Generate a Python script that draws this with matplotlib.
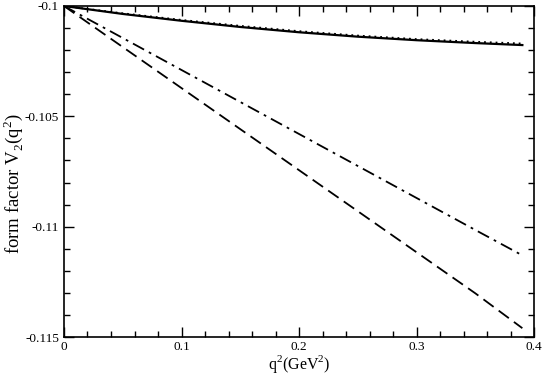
import matplotlib

matplotlib.use("Agg")
import matplotlib.pyplot as plt
from matplotlib.ticker import MultipleLocator

# q^2 grid (GeV^2) and the four form-factor curves
q2 = [0.0, 0.05, 0.1, 0.15, 0.2, 0.25, 0.3, 0.35, 0.39]
v2_solid = [-0.1, -0.10036, -0.10067, -0.10095, -0.10119, -0.10139, -0.10155, -0.10168, -0.10177]
v2_dotted = [-0.1, -0.10033, -0.10063, -0.10090, -0.10114, -0.10134, -0.10150, -0.10162, -0.10170]
v2_dashdot = [-0.1, -0.10145, -0.10290, -0.10435, -0.10580, -0.10725, -0.10870, -0.11015, -0.11130]
v2_dashed = [-0.1, -0.10186, -0.10372, -0.10558, -0.10744, -0.10930, -0.11116, -0.11302, -0.11460]

xticks = [0, 0.1, 0.2, 0.3, 0.4]
xtick_labels = ["0", "0.1", "0.2", "0.3", "0.4"]
yticks = [-0.115, -0.11, -0.105, -0.1]
ytick_labels = ["-0.115", "-0.11", "-0.105", "-0.1"]

plt.rcParams["font.family"] = ["Liberation Serif", "DejaVu Serif"]
plt.rcParams["mathtext.fontset"] = "custom"
plt.rcParams["mathtext.rm"] = "Liberation Serif"

fig = plt.figure(figsize=(5.45, 3.75), dpi=100)
ax = fig.add_axes([0.1174, 0.1013, 0.8626, 0.8827])

ax.plot(q2, v2_solid, color="black", lw=1.6, ls="-")
ax.plot(q2, v2_dotted, color="black", lw=1.3, ls=(0, (1, 2.2)))
ax.plot(q2, v2_dashdot, color="black", lw=1.3, ls=(0, (7, 3, 1.5, 3)))
ax.plot(q2, v2_dashed, color="black", lw=1.3, ls=(0, (7, 3.5)))

ax.set_xlim(0, 0.4)
ax.set_ylim(-0.115, -0.1)
ax.set_xticks(xticks, labels=xtick_labels)
ax.set_yticks(yticks, labels=ytick_labels)
ax.xaxis.set_minor_locator(MultipleLocator(0.02))
ax.yaxis.set_minor_locator(MultipleLocator(0.001))
ax.tick_params(which="both", direction="in", top=True, right=True,
               labelsize=9.5, width=1)
ax.tick_params(which="major", length=7)
ax.tick_params(which="minor", length=4)
ax.tick_params(axis="x", pad=3)
for spine in ax.spines.values():
    spine.set_linewidth(1.2)

ax.set_xlabel(r"q$^2$(GeV$^2$)", fontsize=11.5)
ax.set_ylabel(r"form factor V$_2$(q$^2$)", fontsize=13.5)
ax.xaxis.set_label_coords(0.5, -0.049)
ax.yaxis.set_label_coords(-0.083, 0.462)

fig.savefig("out.png", dpi=100)
